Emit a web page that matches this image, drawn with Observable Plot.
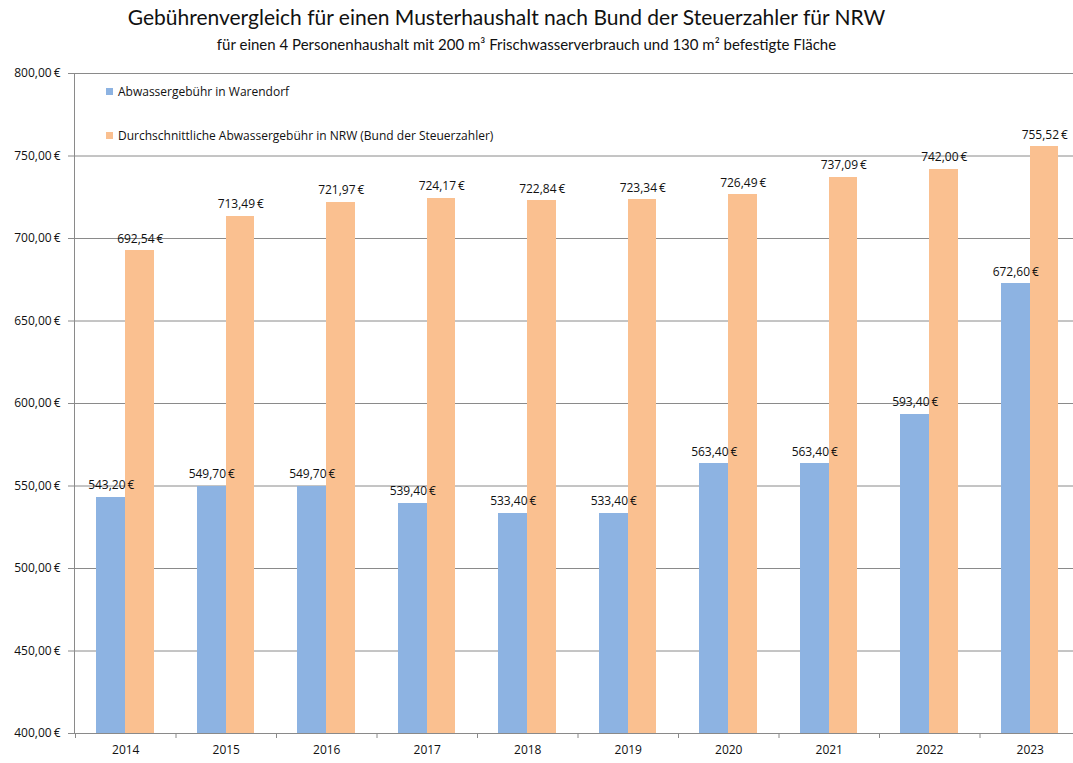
<!DOCTYPE html>
<html>
<head>
<meta charset="utf-8">
<script src="https://cdn.jsdelivr.net/npm/d3@7"></script>
<script src="https://cdn.jsdelivr.net/npm/@observablehq/plot@0.6"></script>
<style>
  html, body { margin: 0; padding: 0; background: #fff; }
  #wrap { position: relative; width: 1073px; height: 763px; overflow: hidden; }
  #title { position: absolute; left: 0; top: 4px; width: 1013px; text-align: center;
           font-family: Lato, "Open Sans", sans-serif; font-size: 21px; color: #111; }
  #subtitle { position: absolute; left: 40px; top: 35px; width: 973px; text-align: center;
           font-family: Lato, "Open Sans", sans-serif; font-size: 15px; color: #111; }
  #chart { position: absolute; left: 0; top: 60px; }
  .leg { position: absolute; left: 106px; font-family: "Open Sans", sans-serif; font-size: 12px; color: #111; white-space: nowrap; }
  .leg span.sw { display: inline-block; width: 7px; height: 7px; margin-right: 5px; vertical-align: 1px; }
</style>
</head>
<body>
<div id="wrap">
  <div id="title">Gebührenvergleich für einen Musterhaushalt nach Bund der Steuerzahler für NRW</div>
  <div id="subtitle">für einen 4 Personenhaushalt mit 200 m³ Frischwasserverbrauch und 130 m² befestigte Fläche</div>
  <div id="chart"></div>
  <div class="leg" id="leg0" style="top:83px"></div>
  <div class="leg" id="leg1" style="top:127px"></div>
</div>
<script>
// ---- data ----
const years = ["2014", "2015", "2016", "2017", "2018", "2019", "2020", "2021", "2022", "2023"];
const seriesNames = ["Abwassergebühr in Warendorf", "Durchschnittliche Abwassergebühr in NRW (Bund der Steuerzahler)"];
const warendorf = [543.20, 549.70, 549.70, 539.40, 533.40, 533.40, 563.40, 563.40, 593.40, 672.60];
const nrw = [692.54, 713.49, 721.97, 724.17, 722.84, 723.34, 726.49, 737.09, 742.00, 755.52];
const yTicks = [400, 450, 500, 550, 600, 650, 700, 750, 800];
const colors = ["#8DB3E2", "#FAC090"];

const yDomain = [yTicks[0], yTicks[yTicks.length - 1]];
const rowsA = years.map((y, i) => ({year: y, series: seriesNames[0], value: warendorf[i]}));
const rowsB = years.map((y, i) => ({year: y, series: seriesNames[1], value: nrw[i]}));

const fmt = d3.formatLocale({decimal: ",", thousands: ".", grouping: [3], currency: ["", ""]}).format(",.2f");
const eur = v => fmt(v) + "\u2009€";

const xRange = [75, 1080];
const bw = (xRange[1] - xRange[0]) / years.length;
const barW = 29;
const gridColor = "#8a8a8a";

const chart = Plot.plot({
  width: 1073,
  height: 703,
  marginTop: 13,
  marginBottom: 30,
  marginLeft: 74,
  marginRight: 0,
  x: {domain: years, range: xRange, paddingInner: 0, paddingOuter: 0, round: false, axis: null, label: null},
  y: {domain: yDomain, axis: null, label: null},
  style: {fontFamily: "'Open Sans', sans-serif", fontSize: "12px", color: "#111", background: "#fff"},
  marks: [
    Plot.ruleY(yTicks, {stroke: gridColor, strokeWidth: 1}),
    Plot.axisY({ticks: yTicks, tickSize: 6, tickPadding: 8, tickFormat: eur, stroke: gridColor, fill: "#111", fontSize: 12, label: null}),
    Plot.axisX({ticks: years, tickSize: 5, text: null, dx: -bw / 2, stroke: gridColor, anchor: "bottom", label: null}),
    Plot.axisX({ticks: years, tickSize: 0, tickPadding: 12, fill: "#111", anchor: "bottom", fontSize: 12, label: null}),
    Plot.frame({anchor: "left", stroke: gridColor}),
    Plot.barY(rowsA, {x: "year", y1: yDomain[0], y2: "value", fill: colors[0], shapeRendering: "crispEdges",
      insetLeft: bw / 2 - barW, insetRight: bw / 2}),
    Plot.barY(rowsB, {x: "year", y1: yDomain[0], y2: "value", fill: colors[1], shapeRendering: "crispEdges",
      insetLeft: bw / 2, insetRight: bw / 2 - barW + 0.5}),
    Plot.text(rowsA, {x: "year", y: "value", text: d => eur(d.value), dx: -barW / 2, dy: -12, fill: "#111", fontSize: 12}),
    Plot.text(rowsB, {x: "year", y: "value", text: d => eur(d.value), dx: barW / 2, dy: -12, fill: "#111", fontSize: 12})
  ]
});
document.getElementById("chart").appendChild(chart);

seriesNames.forEach((name, i) => {
  const el = document.getElementById("leg" + i);
  el.innerHTML = `<span class="sw" style="background:${colors[i]}"></span>`;
  el.appendChild(document.createTextNode(name));
});
</script>
</body>
</html>
